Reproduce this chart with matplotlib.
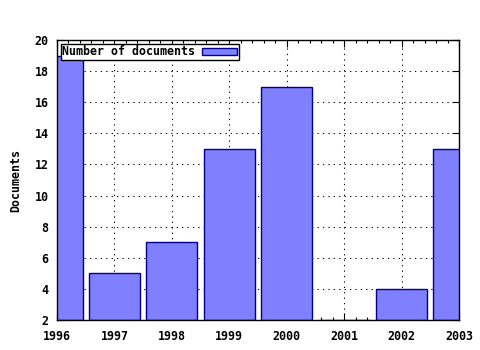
import matplotlib
matplotlib.use("Agg")
import matplotlib.pyplot as plt
from matplotlib.ticker import MultipleLocator

years = [1996, 1997, 1998, 1999, 2000, 2001, 2002, 2003]
documents = [19, 5, 7, 13, 17, 0, 4, 13]
series_label = "Number of documents"

plt.rcParams['font.family'] = ['DejaVu Sans Mono']
plt.rcParams['font.weight'] = 'bold'
plt.rcParams['font.size'] = 8.4

fig = plt.figure(figsize=(4.8, 3.5), dpi=100)
ax = fig.add_axes([57/480, 1 - 320/350, (459-57)/480, (320-40)/350])

bars = ax.bar(years, [d - 2 for d in documents], bottom=2, width=0.89,
              color='#8080ff', edgecolor='#000090', linewidth=1.0,
              label=series_label, zorder=2)

ax.set_xlim(1996, 2003)
ax.set_ylim(2, 20)
ax.set_xticks(years)
ax.set_yticks(range(2, 21, 2))
ax.xaxis.set_minor_locator(MultipleLocator(0.2))
ax.tick_params(which='both', direction='in', top=True, right=True, width=0.8)
ax.tick_params(which='major', length=5)
ax.tick_params(which='minor', length=2.5)
ax.tick_params(axis='x', pad=7)
ax.tick_params(axis='y', pad=6)
for lab in ax.get_xticklabels() + ax.get_yticklabels():
    lab.set_fontweight('bold')
ax.grid(True, which='major', color='black', linestyle=(0, (1.2, 4)), linewidth=0.75, zorder=1)
ax.set_axisbelow(True)
for s in ax.spines.values():
    s.set_linewidth(1.0)
    s.set_zorder(5)
ax.set_ylabel("Documents", fontweight='bold', labelpad=9)

leg = ax.legend(loc='upper left', markerfirst=False, frameon=True, fancybox=False,
                borderpad=0.12, handlelength=3.0, handleheight=0.6, handletextpad=0.6,
                borderaxespad=0.35, prop={'weight': 'bold', 'size': 8.4})
leg.get_frame().set_edgecolor('black')
leg.get_frame().set_linewidth(1.0)
leg.get_frame().set_alpha(1)

fig.savefig("out.png", dpi=100)
